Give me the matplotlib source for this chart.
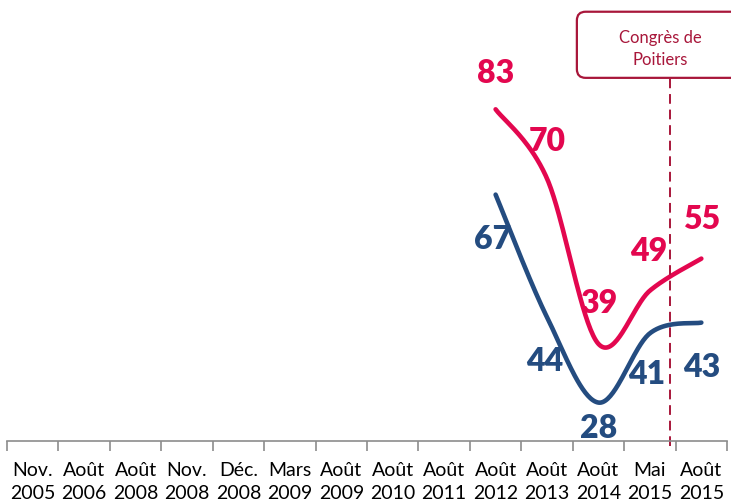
import numpy as np
import matplotlib.pyplot as plt
from matplotlib.patches import FancyBboxPatch

# categories (survey dates)
categories = ['Nov.\n2005', 'Août\n2006', 'Août\n2008', 'Nov.\n2008', 'Déc.\n2008',
              'Mars\n2009', 'Août\n2009', 'Août\n2010', 'Août\n2011', 'Août\n2012',
              'Août\n2013', 'Août\n2014', 'Mai\n2015', 'Août\n2015']

# series (only the last five dates have values)
red_values = [83, 70, 39, 49, 55]
blue_values = [67, 44, 28, 41, 43]
first_idx = 9

# label offsets in points (dx, dy)
red_offsets = [(0, 25.5), (0, 26.5), (0, 29), (-1, 28), (0, 28)]
blue_offsets = [(-2, -32), (-2, -32), (0, -19), (-2, -30), (0, -32)]

RED = '#E3074F'
BLUE = '#244C80'
DARKRED = '#A8163A'
GREY = '#8C8C8C'

plt.rcParams['font.family'] = ['Lato', 'DejaVu Sans']


def smooth(xs, ys, n=40):
    # Excel-like smoothed line (Catmull-Rom as cubic Bezier)
    pts = np.column_stack([xs, ys]).astype(float)
    p = np.vstack([pts[0], pts, pts[-1]])
    out = []
    for i in range(1, len(p) - 2):
        p0, p1, p2, p3 = p[i - 1], p[i], p[i + 1], p[i + 2]
        c1 = p1 + (p2 - p0) / 6
        c2 = p2 - (p3 - p1) / 6
        t = np.linspace(0, 1, n)[:, None]
        seg = ((1 - t) ** 3) * p1 + 3 * ((1 - t) ** 2) * t * c1 + 3 * (1 - t) * t ** 2 * c2 + t ** 3 * p2
        out.append(seg if i == 1 else seg[1:])
    out = np.vstack(out)
    return out[:, 0], out[:, 1]


fig = plt.figure(figsize=(7.31, 5.03), dpi=100)
ax = fig.add_axes([0.0096, 0.1233, 0.985, 0.8767])

x = np.arange(first_idx, first_idx + len(red_values))

for vals, offs, col in [(red_values, red_offsets, RED), (blue_values, blue_offsets, BLUE)]:
    sx, sy = smooth(x, vals)
    ax.plot(sx, sy, color=col, lw=3.3, solid_capstyle='round', clip_on=False)
    for xi, v, (dx, dy) in zip(x, vals, offs):
        ax.annotate(str(v), (xi, v), xytext=(dx, dy), textcoords='offset points',
                    ha='center', va='center', fontsize=23, fontweight='heavy', color=col)

ax.set_xlim(-0.5, len(categories) - 0.5)
ax.set_ylim(20.8, 103.5)

# axis styling
for s in ['left', 'right', 'top']:
    ax.spines[s].set_visible(False)
ax.spines['bottom'].set_color(GREY)
ax.spines['bottom'].set_linewidth(1.2)
ax.set_yticks([])
ax.set_xticks(range(len(categories)))
ax.set_xticklabels(categories, fontsize=14, linespacing=1.45)
ax.set_xticks(np.arange(-0.5, len(categories)), minor=True)
ax.tick_params(axis='x', which='major', length=0, pad=15, colors='black')
ax.tick_params(axis='x', which='minor', length=7, width=1.2, color=GREY, direction='out')

# event marker: Congrès de Poitiers
event_x = 12.4
ax.plot([event_x, event_x], [19.9, 88.9], color=DARKRED, lw=1.4, ls=(0, (5, 3)), clip_on=False)
box = FancyBboxPatch((10.58, 88.9), 3.2, 12.4, boxstyle='round,pad=0,rounding_size=0.17',
                     mutation_aspect=9.6, fc='white', ec=DARKRED, lw=1.6, clip_on=False)
ax.add_patch(box)
ax.text(12.2, 94.3, 'Congrès de\nPoitiers', ha='center', va='center', fontsize=12,
        color=DARKRED, linespacing=1.5)

fig.savefig('out.png', dpi=100)
